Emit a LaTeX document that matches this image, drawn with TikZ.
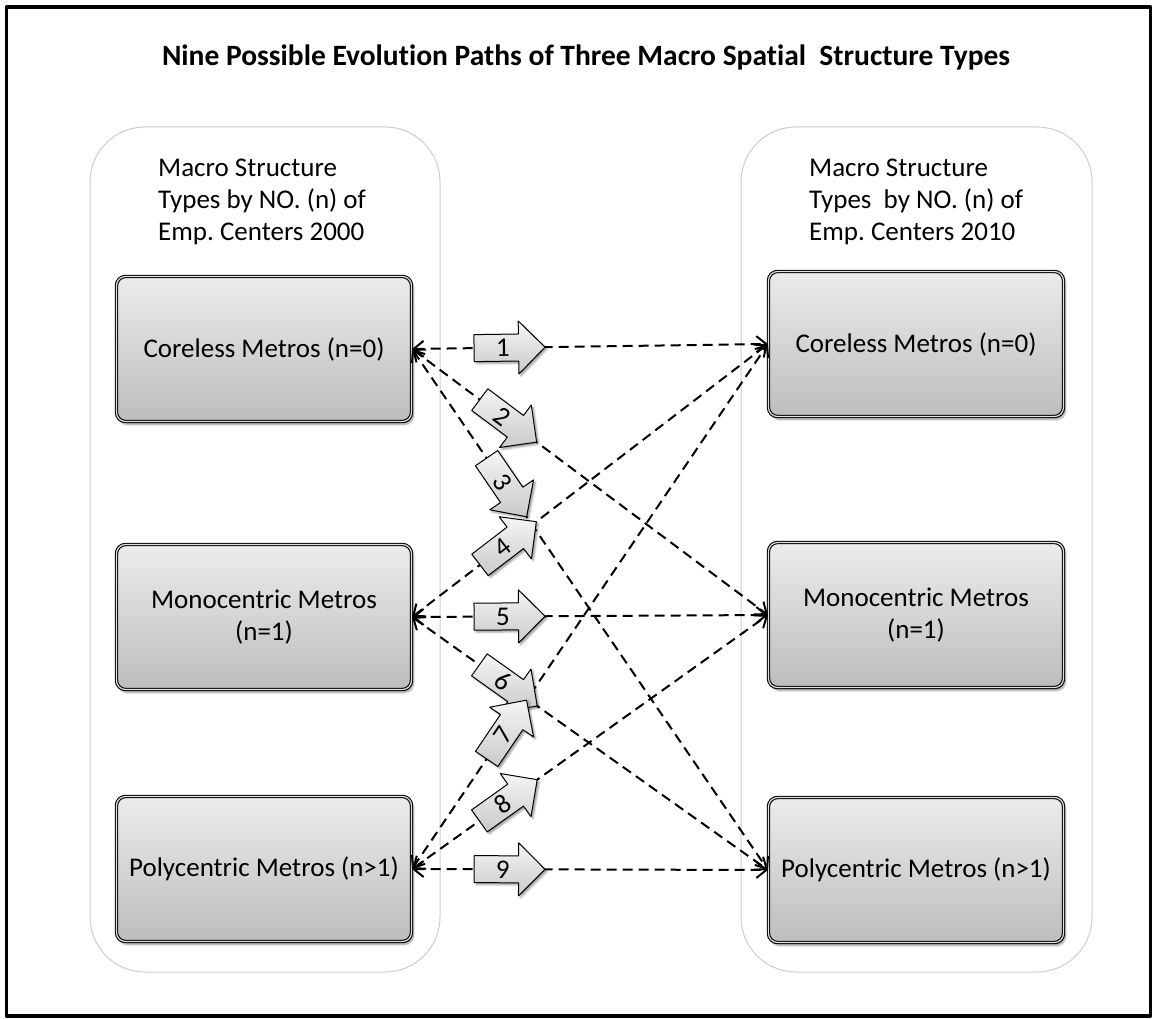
\documentclass[tikz,border=0pt]{standalone}
\usepackage{fontspec}
\setmainfont{Carlito}[Ligatures=NoCommon]
\usetikzlibrary{arrows.meta,shapes.arrows,shadows.blur}
\frenchspacing

\begin{document}
\begin{tikzpicture}[x=1pt, y=-1pt, >={Straight Barb[length=10pt,width=16pt]}, line join=round,
  metro/.style={draw=black, line width=1.1pt, double=gray!25, double distance=1.2pt,
    rounded corners=9pt, top color=gray!15, bottom color=gray!52,
    minimum width=295pt, minimum height=145pt, align=center,
    font=\fontsize{27}{32}\selectfont,
    blur shadow={shadow xshift=2pt, shadow yshift=-3pt, shadow blur steps=6}},
  evo/.style={<->, line width=2pt, dash pattern=on 10pt off 6pt},
  stepno/.style={single arrow, draw=black, line width=1pt, top color=gray!8, bottom color=gray!42,
    single arrow head extend=13pt, minimum height=71pt, inner sep=4pt,
    text height=18pt, text depth=0pt, font=\fontsize{27}{27}\selectfont,
    sloped, pos=.255, blur shadow={shadow xshift=2pt, shadow yshift=-2pt, shadow blur steps=4}},
  hdr/.style={anchor=north west, inner sep=0pt, align=left, font=\fontsize{27}{32}\selectfont}]
  \useasboundingbox (0,0) rectangle (1154,1019);
  \draw[line width=3.5pt] (6.5,7) rectangle (1150.5,1016);
  \node[anchor=base, inner sep=0pt, font=\fontsize{29.5}{34}\selectfont\bfseries] (title) at (586,66)
    {Nine Possible Evolution Paths of Three Macro Spatial~ Structure Types};
  \draw[gray!40, line width=1pt, rounded corners=55pt] (90,127) rectangle (440,972);
  \draw[gray!40, line width=1pt, rounded corners=55pt] (741,127) rectangle (1092,972);
  \node[hdr] (hl) at (158,159) {Macro Structure\\Types by NO. (n) of\\Emp. Centers 2000};
  \node[hdr] (hr) at (809,159) {Macro Structure\\Types~ by NO. (n) of\\Emp. Centers 2010};
  \node[metro] (lc) at (264,349) {Coreless Metros (n=0)};
  \node[metro] (lm) at (264,617) {Monocentric Metros\\(n=1)};
  \node[metro] (lp) at (264,869) {Polycentric Metros (n>1)};
  \node[metro] (rc) at (916,344) {Coreless Metros (n=0)};
  \node[metro] (rm) at (916,615) {Monocentric Metros\\(n=1)};
  \node[metro] (rp) at (916,870) {Polycentric Metros (n>1)};
  \draw[evo] (lc.east) -- (rc.west);
  \draw[evo] (lc.east) -- (rm.west);
  \draw[evo] (lc.east) -- (rp.west);
  \draw[evo] (lm.east) -- (rc.west);
  \draw[evo] (lm.east) -- (rm.west);
  \draw[evo] (lm.east) -- (rp.west);
  \draw[evo] (lp.east) -- (rc.west);
  \draw[evo] (lp.east) -- (rm.west);
  \draw[evo] (lp.east) -- (rp.west);
  \path (lc.east) -- node[stepno] (p1) {1} (rc.west);
  \path (lc.east) -- node[stepno] (p2) {2} (rm.west);
  \path (lc.east) -- node[stepno] (p3) {3} (rp.west);
  \path (lm.east) -- node[stepno] (p4) {4} (rc.west);
  \path (lm.east) -- node[stepno] (p5) {5} (rm.west);
  \path (lm.east) -- node[stepno] (p6) {6} (rp.west);
  \path (lp.east) -- node[stepno] (p7) {7} (rc.west);
  \path (lp.east) -- node[stepno] (p8) {8} (rm.west);
  \path (lp.east) -- node[stepno] (p9) {9} (rp.west);
\end{tikzpicture}
\end{document}
